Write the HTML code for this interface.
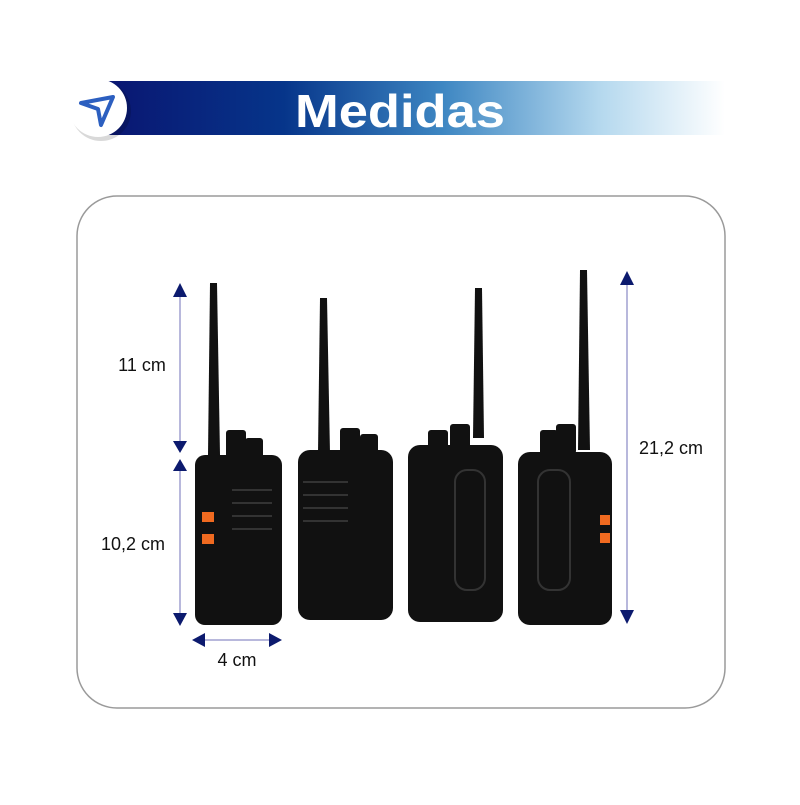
<!DOCTYPE html>
<html><head><meta charset="utf-8"><style>
body{margin:0;background:#fff;width:800px;height:800px;overflow:hidden}
</style></head><body>
<svg width="800" height="800" viewBox="0 0 800 800" xmlns="http://www.w3.org/2000/svg" font-family="Liberation Sans, sans-serif">
<defs>
<linearGradient id="g" x1="0" x2="1" y1="0" y2="0">
<stop offset="0" stop-color="#0a1470"/><stop offset="0.3" stop-color="#06358a"/><stop offset="0.55" stop-color="#3d86c2"/><stop offset="0.8" stop-color="#b4d8ee"/><stop offset="1" stop-color="#ffffff"/>
</linearGradient>
</defs>
<rect x="95" y="81" width="630" height="54" fill="url(#g)"/>
<circle cx="101" cy="111" r="30" fill="#000" opacity="0.15"/>
<circle cx="98" cy="108" r="29" fill="#fff"/>
<path d="M81 103 L113 97 L101 125 L98 109 Z" fill="none" stroke="#2c5fc0" stroke-width="4" stroke-linejoin="round"/>
<text x="400" y="127" text-anchor="middle" font-size="46" font-weight="bold" fill="#fff" textLength="210" lengthAdjust="spacingAndGlyphs">Medidas</text>
<rect x="77" y="196" width="648" height="512" rx="40" fill="#fff" stroke="#9a9a9a" stroke-width="1.5"/>
<g stroke="#b8b8dc" stroke-width="2">
<line x1="180" y1="287" x2="180" y2="450"/><line x1="180" y1="462" x2="180" y2="622"/>
<line x1="197" y1="640" x2="278" y2="640"/><line x1="627" y1="276" x2="627" y2="620"/>
</g>
<g fill="#0c1a6e">
<path d="M173 297 L187 297 L180 283Z"/><path d="M173 441 L187 441 L180 453Z"/>
<path d="M173 471 L187 471 L180 459Z"/><path d="M173 613 L187 613 L180 626Z"/>
<path d="M205 633 L205 647 L192 640Z"/><path d="M269 633 L269 647 L282 640Z"/>
<path d="M620 285 L634 285 L627 271Z"/><path d="M620 610 L634 610 L627 624Z"/>
</g>
<g font-size="18" fill="#111" text-anchor="middle">
<text x="142" y="371">11 cm</text><text x="133" y="550">10,2 cm</text>
<text x="237" y="666">4 cm</text><text x="671" y="454">21,2 cm</text>
</g>
<g fill="#111">
<path d="M210 283 h7 l3 172 h-12z"/>
<rect x="226" y="430" width="20" height="30" rx="3"/><rect x="245" y="438" width="18" height="25" rx="3"/>
<rect x="195" y="455" width="87" height="170" rx="10"/>
<rect x="202" y="512" width="12" height="10" fill="#f06a20"/><rect x="202" y="534" width="12" height="10" fill="#f06a20"/>
<path d="M320 298 h7 l3 155 h-12z"/>
<rect x="340" y="428" width="20" height="30" rx="3"/><rect x="360" y="434" width="18" height="25" rx="3"/>
<rect x="298" y="450" width="95" height="170" rx="12"/>
<path d="M475 288 h7 l2 150 h-11z"/>
<rect x="428" y="430" width="20" height="30" rx="3"/><rect x="450" y="424" width="20" height="30" rx="3"/>
<rect x="408" y="445" width="95" height="177" rx="12"/>
<path d="M580 270 h7 l3 180 h-12z"/>
<rect x="540" y="430" width="18" height="28" rx="3"/><rect x="556" y="424" width="20" height="30" rx="3"/>
<rect x="518" y="452" width="94" height="173" rx="12"/>
<rect x="600" y="515" width="10" height="10" fill="#f06a20"/><rect x="600" y="533" width="10" height="10" fill="#f06a20"/>
</g>
<g stroke="#333" stroke-width="2" fill="none">
<path d="M232 490 h40 M232 503 h40 M232 516 h40 M232 529 h40"/>
<path d="M303 482 h45 M303 495 h45 M303 508 h45 M303 521 h45"/>
<rect x="455" y="470" width="30" height="120" rx="12"/>
<rect x="538" y="470" width="32" height="120" rx="12"/>
</g>
</svg>
</body></html>
